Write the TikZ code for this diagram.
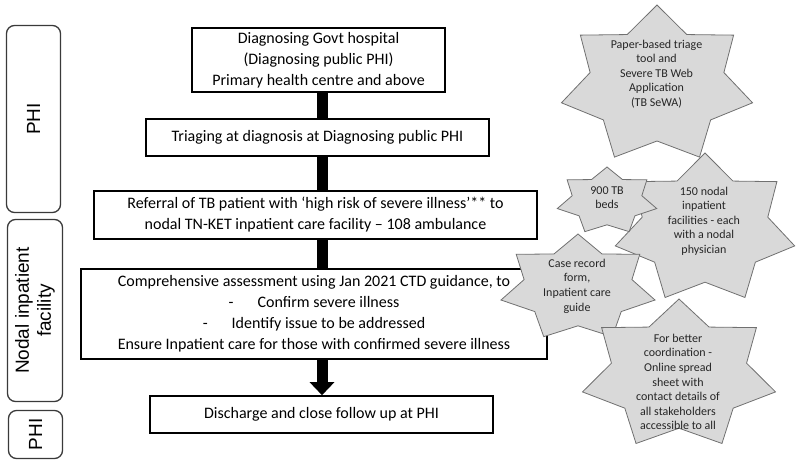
\documentclass[tikz,border=0pt]{standalone}
\usepackage{fontspec}
\setmainfont{Carlito}
\newfontfamily\labelfont{Liberation Sans}
\usetikzlibrary{arrows.meta}
\definecolor{starfill}{HTML}{D9D9D9}
\definecolor{staredge}{HTML}{707070}
\definecolor{labeledge}{HTML}{3A3A3A}
\definecolor{startext}{HTML}{262626}
\newcommand{\sevenstar}[4]{%
  \filldraw[starshape] ({#1},{#2-#4}) \foreach \i in {1,...,13}{ -- ({#1+(0.85+0.15*cos(\i*180))*#3*cos(90-\i*360/14)},{#2-(0.85+0.15*cos(\i*180))*#4*sin(90-\i*360/14)}) } -- cycle;}
\begin{document}
\begin{tikzpicture}[x=1pt,y=-1pt,
  flowbox/.style={draw=black, line width=1.6pt, align=center, inner sep=0pt, font=\fontsize{16}{21}\selectfont},
  sidelabel/.style={draw=labeledge, line width=1.3pt, rounded corners=8pt, rotate=90, align=center, inner sep=0pt, font=\labelfont\fontsize{19}{22}\selectfont},
  starshape/.style={fill=starfill, draw=staredge, line width=0.8pt},
  startext/.style={align=center, inner sep=0pt, text=startext, font=\fontsize{12}{14.6}\selectfont},
  bar/.style={line width=11pt, draw=black}]
\useasboundingbox (0,0) rectangle (800,464);

% side labels
\node[sidelabel, minimum width=187pt, minimum height=54pt] (l1) at (33.5,119) {PHI};
\node[sidelabel, minimum width=182pt, minimum height=55pt] (l2) at (35,310.5) {Nodal inpatient\\facility};
\node[sidelabel, minimum width=48pt, minimum height=54pt] (l3) at (35.5,434.5) {PHI};

% flow boxes
\node[flowbox, minimum width=253pt, minimum height=64pt] (b1) at (318.5,60) {Diagnosing Govt hospital\\(Diagnosing public PHI)\\Primary health centre and above};
\node[flowbox, minimum width=343pt, minimum height=37pt] (b2) at (317.5,137.5) {Triaging at diagnosis at Diagnosing public PHI};
\node[flowbox, minimum width=443pt, minimum height=48pt] (b3) at (315.5,215) {Referral of TB patient with ‘high risk of severe illness’** to\\nodal TN-KET inpatient care facility – 108 ambulance};
\node[flowbox, minimum width=466pt, minimum height=90pt] (b4) at (314,314) {Comprehensive assessment using Jan 2021 CTD guidance, to\\-\hspace{24pt}Confirm severe illness\\-\hspace{24pt}Identify issue to be addressed\\Ensure Inpatient care for those with confirmed severe illness};
\node[flowbox, minimum width=343pt, minimum height=37pt] (b5) at (321.5,414.5) {Discharge and close follow up at PHI};

% connectors
\coordinate (barx) at (322,0);
\draw[bar] (barx |- b1.south) -- (barx |- b2.north);
\draw[bar] (barx |- b2.south) -- (barx |- b3.north);
\draw[bar] (barx |- b3.south) -- (barx |- b4.north);
\draw[bar, -{Triangle[length=13pt,width=24pt]}] (barx |- b4.south) -- (barx |- b5.north);

% stars
\sevenstar{657}{85}{98}{80}
\node[startext] (s1) at (656.5,74) {Paper-based triage\\tool and\\Severe TB Web\\Application\\(TB SeWA)};
\sevenstar{705}{229}{92}{76}
\node[startext] (s3) at (704,221) {150 nodal\\inpatient\\facilities - each\\with a nodal\\physician};
\sevenstar{607}{201}{51}{34}
\node[startext] (s2) at (607,197.5) {900 TB\\beds};
\sevenstar{578}{288}{79}{54}
\node[startext] (s4) at (577,286) {Case record\\form,\\Inpatient care\\guide};
\sevenstar{679}{375}{99}{76}
\node[startext] (s5) at (678,382) {For better\\coordination -\\Online spread\\sheet with\\contact details of\\all stakeholders\\accessible to all};
\end{tikzpicture}
\end{document}
